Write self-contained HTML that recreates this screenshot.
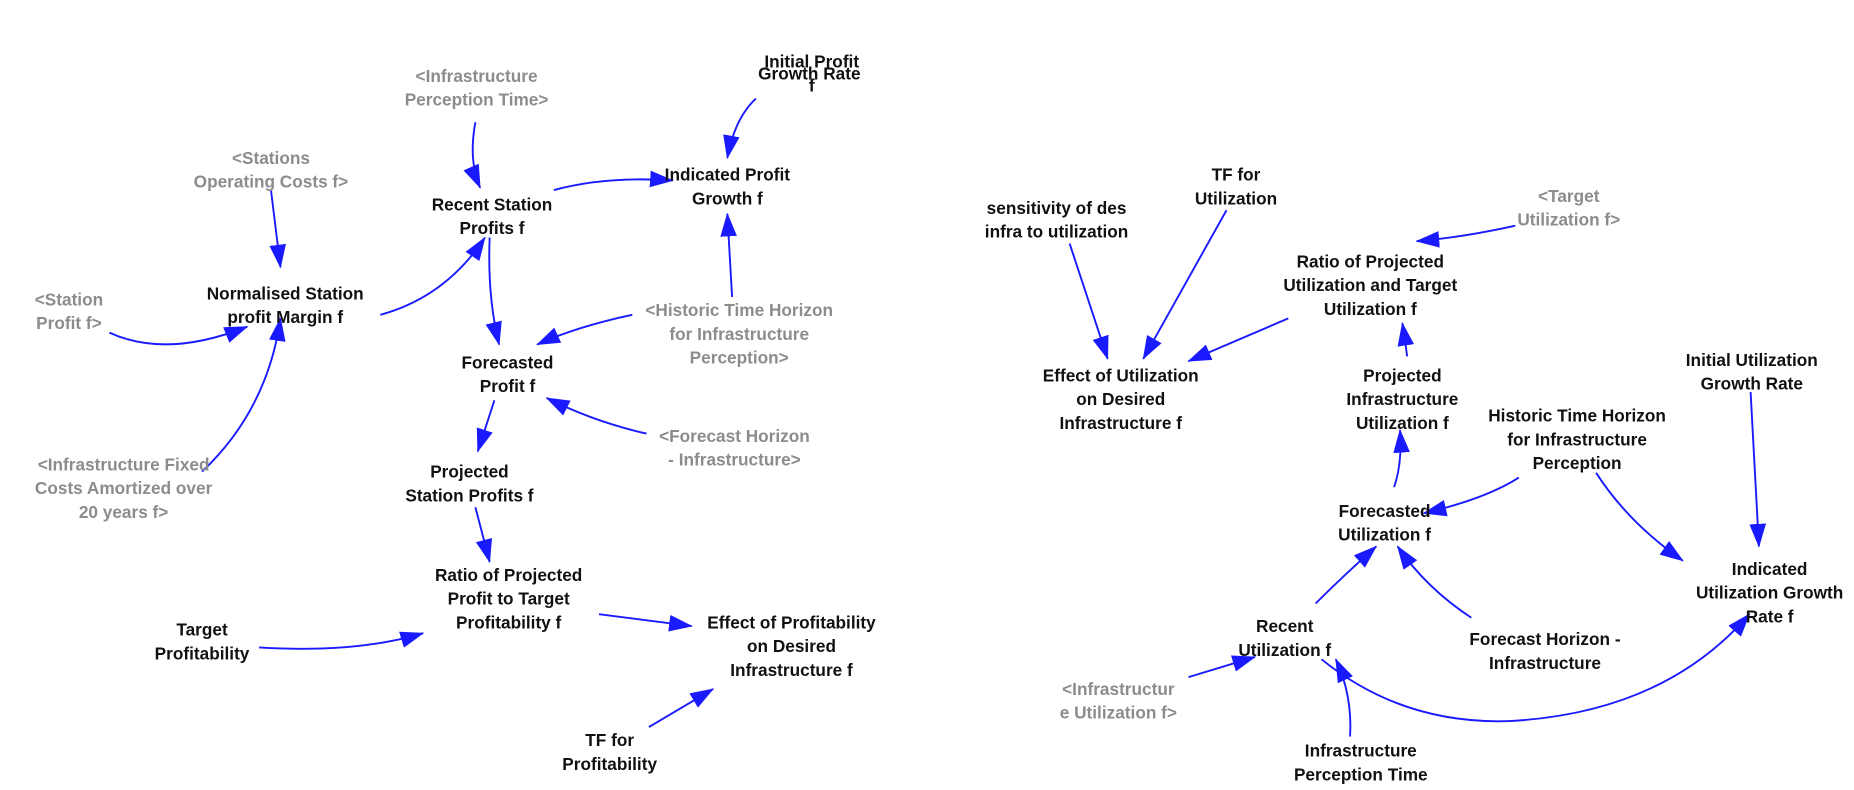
<!DOCTYPE html>
<html><head><meta charset="utf-8"><style>
html,body{margin:0;padding:0;background:#fff;}
svg{display:block;}
text{font-family:"Liberation Sans",Arial,sans-serif;font-weight:bold;font-size:14.5px;text-anchor:middle;fill:#111;}
text.g{fill:#8c8c8c;}
path{fill:none;stroke:#1a1aff;stroke-width:1.6;}
</style></head><body>
<svg width="1854" height="790" viewBox="0 0 1560 665" preserveAspectRatio="none" xmlns="http://www.w3.org/2000/svg">
<defs><marker id="a" viewBox="0 0 20 14" refX="19" refY="7" markerWidth="20" markerHeight="14" markerUnits="userSpaceOnUse" orient="auto"><path d="M0,0 L20,7 L0,14 z" style="fill:#1a1aff;stroke:none"/></marker></defs>
<g marker-end="url(#a)">
<path d="M400,103 Q394,135 404,158"/>
<path d="M228,160 L236,225"/>
<path d="M92,280 Q140,302 208,275"/>
<path d="M170,397 Q225,345 236,268"/>
<path d="M320,265 Q375,250 408,200"/>
<path d="M412,200 Q410,250 420,290"/>
<path d="M466,160 Q510,148 566,152"/>
<path d="M636,83 Q618,100 612,133"/>
<path d="M616,250 L612,180"/>
<path d="M532,265 Q485,275 452,290"/>
<path d="M544,365 Q500,355 460,335"/>
<path d="M416,337 L402,380"/>
<path d="M400,427 L412,473"/>
<path d="M218,545 Q300,550 356,533"/>
<path d="M504,517 L582,527"/>
<path d="M546,612 L600,580"/>
<path d="M900,205 L932,302"/>
<path d="M1032,177 L962,302"/>
<path d="M1084,268 L1000,304"/>
<path d="M1275,190 Q1230,200 1192,203"/>
<path d="M1184,300 Q1182,285 1180,272"/>
<path d="M1173,410 Q1180,390 1178,362"/>
<path d="M1278,402 Q1250,420 1198,432"/>
<path d="M1473,330 L1480,460"/>
<path d="M1343,398 Q1370,440 1416,472"/>
<path d="M1107,508 Q1130,485 1158,460"/>
<path d="M1238,520 Q1200,495 1176,460"/>
<path d="M1000,570 L1056,553"/>
<path d="M1136,620 Q1138,585 1124,555"/>
<path d="M1112,555 Q1180,610 1270,607 Q1400,600 1472,517"/>
</g>
<g>
<text x="683" y="57">Initial Profit</text><text x="681" y="67">Growth Rate</text><text x="683" y="77">f</text>
<text class="g" x="401" y="69">&lt;Infrastructure</text><text class="g" x="401" y="89">Perception Time&gt;</text>
<text class="g" x="228" y="138">&lt;Stations</text><text class="g" x="228" y="158">Operating Costs f&gt;</text>
<text x="414" y="177">Recent Station</text><text x="414" y="197">Profits f</text>
<text x="612" y="152">Indicated Profit</text><text x="612" y="172">Growth f</text>
<text x="240" y="252">Normalised Station</text><text x="240" y="272">profit Margin f</text>
<text class="g" x="58" y="257">&lt;Station</text><text class="g" x="58" y="277">Profit f&gt;</text>
<text class="g" x="622" y="266">&lt;Historic Time Horizon</text><text class="g" x="622" y="286">for Infrastructure</text><text class="g" x="622" y="306">Perception&gt;</text>
<text x="427" y="310">Forecasted</text><text x="427" y="330">Profit f</text>
<text class="g" x="618" y="372">&lt;Forecast Horizon</text><text class="g" x="618" y="392">- Infrastructure&gt;</text>
<text x="395" y="402">Projected</text><text x="395" y="422">Station Profits f</text>
<text class="g" x="104" y="396">&lt;Infrastructure Fixed</text><text class="g" x="104" y="416">Costs Amortized over</text><text class="g" x="104" y="436">20 years f&gt;</text>
<text x="428" y="489">Ratio of Projected</text><text x="428" y="509">Profit to Target</text><text x="428" y="529">Profitability f</text>
<text x="170" y="535">Target</text><text x="170" y="555">Profitability</text>
<text x="666" y="529">Effect of Profitability</text><text x="666" y="549">on Desired</text><text x="666" y="569">Infrastructure f</text>
<text x="513" y="628">TF for</text><text x="513" y="648">Profitability</text>
<text x="1040" y="152">TF for</text><text x="1040" y="172">Utilization</text>
<text x="889" y="180">sensitivity of des</text><text x="889" y="200">infra to utilization</text>
<text class="g" x="1320" y="170">&lt;Target</text><text class="g" x="1320" y="190">Utilization f&gt;</text>
<text x="1153" y="225">Ratio of Projected</text><text x="1153" y="245">Utilization and Target</text><text x="1153" y="265">Utilization f</text>
<text x="943" y="321">Effect of Utilization</text><text x="943" y="341">on Desired</text><text x="943" y="361">Infrastructure f</text>
<text x="1180" y="321">Projected</text><text x="1180" y="341">Infrastructure</text><text x="1180" y="361">Utilization f</text>
<text x="1474" y="308">Initial Utilization</text><text x="1474" y="328">Growth Rate</text>
<text x="1327" y="355">Historic Time Horizon</text><text x="1327" y="375">for Infrastructure</text><text x="1327" y="395">Perception</text>
<text x="1165" y="435">Forecasted</text><text x="1165" y="455">Utilization f</text>
<text x="1489" y="484">Indicated</text><text x="1489" y="504">Utilization Growth</text><text x="1489" y="524">Rate f</text>
<text x="1081" y="532">Recent</text><text x="1081" y="552">Utilization f</text>
<text x="1300" y="543">Forecast Horizon -</text><text x="1300" y="563">Infrastructure</text>
<text class="g" x="941" y="585">&lt;Infrastructur</text><text class="g" x="941" y="605">e Utilization f&gt;</text>
<text x="1145" y="637">Infrastructure</text><text x="1145" y="657">Perception Time</text>
</g>
</svg>
</body></html>
